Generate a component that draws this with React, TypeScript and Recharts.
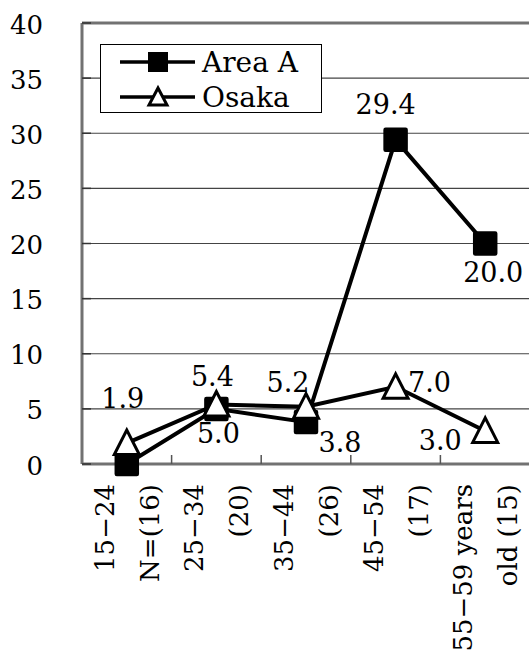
import React from 'react';
import { LineChart, Line, XAxis, YAxis, CartesianGrid, ReferenceLine, LabelList, Legend } from 'recharts';

// ---- data ----
const categoryLines: string[][] = [
  ['15−24', 'N=(16)'],
  ['25−34', '(20)'],
  ['35−44', '(26)'],
  ['45−54', '(17)'],
  ['55−59 years', 'old (15)'],
];
const areaAValues = [0.0, 5.0, 3.8, 29.4, 20.0];
const osakaValues = [1.9, 5.4, 5.2, 7.0, 3.0];
const yTicks = [0, 5, 10, 15, 20, 25, 30, 35, 40];
const seriesNames = { areaA: 'Area A', osaka: 'Osaka' };

// ---- label placement (style) : offsets of label centre from point ----
const areaALabelOffsets: (null | [number, number])[] = [null, [2, 24], [34, 20], [-10, -36], [8, 28]];
const osakaLabelOffsets: (null | [number, number])[] = [[-4, -45], [-4, -28], [-18, -25], [34, -5], [-45, 9]];

const FONT = 'DejaVu Serif, Liberation Serif, serif';
const GRAY = '#727272';

const data = categoryLines.map((_, i) => ({
  pos: i + 0.5,
  areaA: areaAValues[i],
  osaka: osakaValues[i],
}));

const xTicks: number[] = [];
for (let i = 0; i < categoryLines.length; i++) {
  xTicks.push(i + 0.5);
  if (i < categoryLines.length - 1) xTicks.push(i + 1);
}

const XTick = (props: any) => {
  const { x, y, payload } = props;
  const v = payload.value;
  if (Number.isInteger(v)) {
    return <line x1={x} x2={x} y1={y} y2={y - 9} stroke="#555" strokeWidth={1.5} />;
  }
  const lines = categoryLines[Math.round(v - 0.5)];
  const ty = y + 20;
  const bx = [x - 13, x + 32];
  return (
    <g>
      {lines.map((t, k) => (
        <text
          key={k}
          x={bx[k]}
          y={ty}
          transform={`rotate(-90 ${bx[k]} ${ty})`}
          textAnchor="end"
          style={{ fontFamily: FONT }}
          fontSize={26}
          fill="#000"
        >
          {t}
        </text>
      ))}
    </g>
  );
};

const YTick = (props: any) => {
  const { x, y, payload } = props;
  return (
    <g>
      <line x1={x} x2={x + 9} y1={y} y2={y} stroke="#333" strokeWidth={1.5} />
      <text x={x - 39} y={y + 10.5} textAnchor="end" style={{ fontFamily: FONT }} fontSize={26} fill="#000">
        {payload.value}
      </text>
    </g>
  );
};

const SquareDot = (props: any) => {
  const { cx, cy } = props;
  if (cx == null || cy == null) return null;
  return <rect x={cx - 11} y={cy - 11} width={22} height={22} fill="#000" stroke="#000" strokeWidth={2.5} rx={1} />;
};

const TriangleDot = (props: any) => {
  const { cx, cy } = props;
  if (cx == null || cy == null) return null;
  return (
    <polygon
      points={`${cx},${cy - 13} ${cx - 12.5},${cy + 11.5} ${cx + 12.5},${cy + 11.5}`}
      fill="#fff"
      stroke="#000"
      strokeWidth={3}
      strokeLinejoin="miter"
    />
  );
};

const makeLabel = (offsets: (null | [number, number])[]) => (props: any) => {
  const { x, y, value, index } = props;
  const off = offsets[index];
  if (!off || x == null || y == null) return null;
  return (
    <text
      x={x + off[0]}
      y={y + off[1] + 10}
      textAnchor="middle"
      style={{ fontFamily: FONT }}
      fontSize={27}
      fill="#000"
    >
      {Number(value).toFixed(1)}
    </text>
  );
};

const LegendContent = (props: any) => {
  const payload = props.payload || [];
  return (
    <svg width={222} height={69} style={{ display: 'block' }}>
      <rect x={0.5} y={0.5} width={221} height={68} fill="#fff" stroke="#000" strokeWidth={1} />
      {payload.map((p: any, i: number) => {
        const cy = 18 + i * 35;
        const isA = p.dataKey === 'areaA';
        return (
          <g key={i}>
            <line x1={20} x2={95} y1={cy} y2={cy} stroke="#000" strokeWidth={3.5} />
            {isA ? (
              <rect x={48} y={cy - 10} width={20} height={20} fill="#000" />
            ) : (
              <polygon
                points={`58,${cy - 9} ${49},${cy + 8} ${67},${cy + 8}`}
                fill="#fff"
                stroke="#000"
                strokeWidth={3}
              />
            )}
            <text x={102} y={cy + 10} style={{ fontFamily: FONT }} fontSize={28} fill="#000">
              {p.value}
            </text>
          </g>
        );
      })}
    </svg>
  );
};

export default function App() {
  return (
    <div style={{ position: 'absolute', left: 0, top: 0, width: 529, height: 658, overflow: 'hidden', background: '#fff', fontFamily: FONT }}>
      <LineChart width={530} height={658} data={data} margin={{ top: 23, right: 0, bottom: 0, left: 0 }}>
        <CartesianGrid vertical={false} stroke="#444" strokeWidth={1.2} />
        <ReferenceLine y={40} stroke={GRAY} strokeWidth={3} />
        <XAxis
          type="number"
          dataKey="pos"
          domain={[0, categoryLines.length]}
          ticks={xTicks}
          interval={0}
          tickLine={false}
          tickSize={0}
          tickMargin={0}
          height={194}
          axisLine={{ stroke: GRAY, strokeWidth: 3 }}
          tick={<XTick />}
        />
        <YAxis
          domain={[0, 40]}
          ticks={yTicks}
          interval={0}
          width={82}
          tickLine={false}
          tickSize={0}
          tickMargin={0}
          axisLine={{ stroke: GRAY, strokeWidth: 3 }}
          tick={<YTick />}
        />
        <Legend
          layout="vertical"
          align="center"
          verticalAlign="middle"
          content={<LegendContent />}
          wrapperStyle={{ position: 'absolute', left: 100, top: 44, width: 222, height: 69 }}
        />
        <Line
          dataKey="areaA"
          name={seriesNames.areaA}
          stroke="#000"
          strokeWidth={4}
          dot={<SquareDot />}
          isAnimationActive={false}
        >
          <LabelList dataKey="areaA" content={makeLabel(areaALabelOffsets)} />
        </Line>
        <Line
          dataKey="osaka"
          name={seriesNames.osaka}
          stroke="#000"
          strokeWidth={4}
          dot={<TriangleDot />}
          isAnimationActive={false}
        >
          <LabelList dataKey="osaka" content={makeLabel(osakaLabelOffsets)} />
        </Line>
      </LineChart>
    </div>
  );
}
